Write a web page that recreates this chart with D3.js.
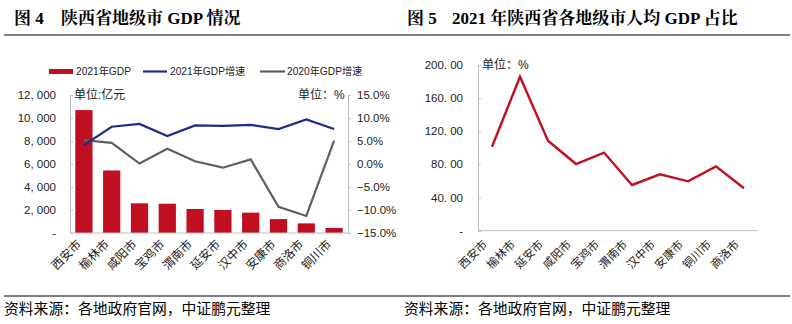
<!DOCTYPE html>
<html>
<head>
<meta charset="utf-8">
<script src="https://cdn.jsdelivr.net/npm/d3@7"></script>
<style>
  body { margin: 0; background: #fff; }
  svg text { font-family: "Liberation Sans", "Noto Sans CJK SC", sans-serif; }
</style>
</head>
<body>
<svg id="viz"></svg>
<script>
let width = 792;
let height = 324;

// Figure 4 data
let cities = ["西安市", "榆林市", "咸阳市", "宝鸡市", "渭南市", "延安市", "汉中市", "安康市", "商洛市", "铜川市"];
let gdp2021 = [10688.3, 5435.2, 2581.1, 2548.7, 2087.0, 2005.9, 1767.8, 1209.4, 837.2, 437.5];
let growth2021 = [4.1, 8.1, 8.7, 6.1, 8.4, 8.3, 8.5, 7.6, 9.7, 7.6];
let growth2020 = [5.2, 4.6, 0.1, 3.3, 0.6, -0.8, 1.0, -9.3, -11.3, 5.1];
let gdpTicks = [0, 2000, 4000, 6000, 8000, 10000, 12000];
let pctTicks = [-15, -10, -5, 0, 5, 10, 15];

// Figure 5 data
let perCapCities = ["西安市", "榆林市", "延安市", "咸阳市", "宝鸡市", "渭南市", "汉中市", "安康市", "铜川市", "商洛市"];
let perCapShare = [101.4, 185.9, 108.6, 80.5, 94.3, 55.2, 68.1, 59.6, 77.7, 51.2];
let shareTicks = [0, 40, 80, 120, 160, 200];

let red = "#C00F20";
let navy = "#1F2A8C";
let grey = "#5F5F5F";
let axisColor = "#BFBFBF";
let textColor = "#222";

let svg = d3.select("#viz")
    .attr("width", width)
    .attr("height", height);

// titles, rules and source notes
let serif = "'Liberation Serif', 'Noto Serif CJK SC', 'Noto Sans CJK SC', serif";
function title(x1, num, x2, label) {
    [[x1, num], [x2, label]].forEach(([x, t]) => {
        svg.append("text").attr("x", x).attr("y", 24)
            .style("font-family", serif).style("font-weight", "bold").style("font-size", "17px")
            .style("white-space", "pre")
            .attr("fill", "#000").text(t);
    });
}
title(14, "图 4", 61, "陕西省地级市 GDP 情况");
title(407, "图 5", 452, "2021 年陕西省各地级市人均 GDP 占比");

[35, 296].forEach(y => {
    svg.append("line").attr("x1", 4).attr("x2", 790).attr("y1", y).attr("y2", y)
        .attr("stroke", "#000").attr("stroke-width", 1.2);
});
[4, 404].forEach(x => {
    svg.append("text").attr("x", x).attr("y", 314)
        .style("font-size", "14.8px").style("font-family", "'Noto Sans CJK SC', sans-serif")
        .attr("fill", "#000").text("资料来源：各地政府官网，中证鹏元整理");
});

function fmtGdp(d) {
    if (d === 0) return "-";
    return d3.format(",")(d).replace(",", ", ");
}

// ---------- figure 4 ----------
let g4 = svg.append("g");
let x4 = d3.scaleBand().domain(cities).range([70, 348]).paddingInner(0.38).paddingOuter(0.19);
let yL = d3.scaleLinear().domain([0, 12000]).range([233, 95]);
let yR = d3.scaleLinear().domain([-15, 15]).range([233, 95]);

g4.selectAll("rect.bar")
    .data(gdp2021)
    .enter()
    .append("rect")
    .attr("class", "bar")
    .attr("x", (d, i) => x4(cities[i]))
    .attr("width", x4.bandwidth())
    .attr("y", d => yL(d))
    .attr("height", d => yL(0) - yL(d))
    .attr("fill", red);

let leftAxis = g4.append("g")
    .attr("transform", "translate(70,0)")
    .call(d3.axisRight(yL).tickValues(gdpTicks).tickSize(3).tickFormat(""));
leftAxis.selectAll("line, path").attr("stroke", axisColor);
g4.selectAll("text.gdpTick")
    .data(gdpTicks)
    .enter()
    .append("text")
    .attr("class", "gdpTick")
    .attr("x", 56).attr("y", d => yL(d) + 4)
    .attr("text-anchor", "end")
    .style("font-size", "11.5px").attr("fill", textColor)
    .text(fmtGdp);

let rightAxis = g4.append("g")
    .attr("transform", "translate(348,0)")
    .call(d3.axisRight(yR).tickValues(pctTicks).tickSize(3).tickPadding(6)
        .tickFormat(d => d3.format(".1f")(d) + "%"));
rightAxis.select(".domain").attr("stroke", axisColor);
rightAxis.selectAll("line").attr("stroke", axisColor);
rightAxis.selectAll("text").style("font-size", "11.5px").attr("fill", textColor);

g4.append("line").attr("x1", 70).attr("x2", 348).attr("y1", yL(0)).attr("y2", yL(0))
    .attr("stroke", axisColor);

let line4 = d3.line().x((d, i) => x4(cities[i]) + x4.bandwidth() / 2).y(d => yR(d));
g4.append("path").datum(growth2020).attr("d", line4)
    .attr("fill", "none").attr("stroke", grey).attr("stroke-width", 2.2);
g4.append("path").datum(growth2021).attr("d", line4)
    .attr("fill", "none").attr("stroke", navy).attr("stroke-width", 2.2);

g4.selectAll("text.cat")
    .data(cities)
    .enter()
    .append("text")
    .attr("class", "cat")
    .attr("transform", d => `translate(${x4(d) + x4.bandwidth() / 2 - 2},${245}) rotate(-45)`)
    .attr("text-anchor", "end")
    .style("font-size", "12px").attr("fill", textColor)
    .text(d => d);

g4.append("text").attr("x", 74).attr("y", 99).style("font-size", "12px").attr("fill", textColor).text("单位:亿元");
g4.append("text").attr("x", 298).attr("y", 99).style("font-size", "12px").attr("fill", textColor).text("单位：%");

// legend
let legend = g4.append("g").style("font-size", "10.2px");
legend.append("rect").attr("x", 49).attr("y", 69).attr("width", 24).attr("height", 5).attr("fill", red);
legend.append("text").attr("x", 76).attr("y", 75).attr("fill", textColor).text("2021年GDP");
legend.append("line").attr("x1", 143).attr("x2", 167).attr("y1", 71.5).attr("y2", 71.5).attr("stroke", navy).attr("stroke-width", 2.2);
legend.append("text").attr("x", 170).attr("y", 75).attr("fill", textColor).text("2021年GDP增速");
legend.append("line").attr("x1", 260).attr("x2", 285).attr("y1", 71.5).attr("y2", 71.5).attr("stroke", grey).attr("stroke-width", 2.2);
legend.append("text").attr("x", 287).attr("y", 75).attr("fill", textColor).text("2020年GDP增速");

// ---------- figure 5 ----------
let g5 = svg.append("g");
let x5 = d3.scalePoint().domain(perCapCities).range([492, 744]);
let y5 = d3.scaleLinear().domain([0, 200]).range([230.7, 65]);

let axis5 = g5.append("g")
    .attr("transform", "translate(478,0)")
    .call(d3.axisRight(y5).tickValues(shareTicks).tickSize(3).tickFormat(""));
axis5.selectAll("line, path").attr("stroke", axisColor);
g5.append("line").attr("x1", 478).attr("x2", 758).attr("y1", y5(0)).attr("y2", y5(0))
    .attr("stroke", axisColor);

g5.selectAll("text.shareTick")
    .data(shareTicks)
    .enter()
    .append("text")
    .attr("class", "shareTick")
    .attr("x", 463).attr("y", d => y5(d) + 4)
    .attr("text-anchor", "end")
    .style("font-size", "11.5px").attr("fill", textColor)
    .text(d => d === 0 ? "-" : d3.format(".2f")(d).replace(".", ". "));

g5.append("path").datum(perCapShare)
    .attr("d", d3.line().x((d, i) => x5(perCapCities[i])).y(d => y5(d)))
    .attr("fill", "none").attr("stroke", red).attr("stroke-width", 2.4);

g5.selectAll("text.cat5")
    .data(perCapCities)
    .enter()
    .append("text")
    .attr("class", "cat5")
    .attr("transform", d => `translate(${x5(d) - 4},${245}) rotate(-45)`)
    .attr("text-anchor", "end")
    .style("font-size", "11.5px").attr("fill", textColor)
    .text(d => d);

g5.append("text").attr("x", 482).attr("y", 69).style("font-size", "12px").attr("fill", textColor).text("单位：%");
</script>
</body>
</html>
